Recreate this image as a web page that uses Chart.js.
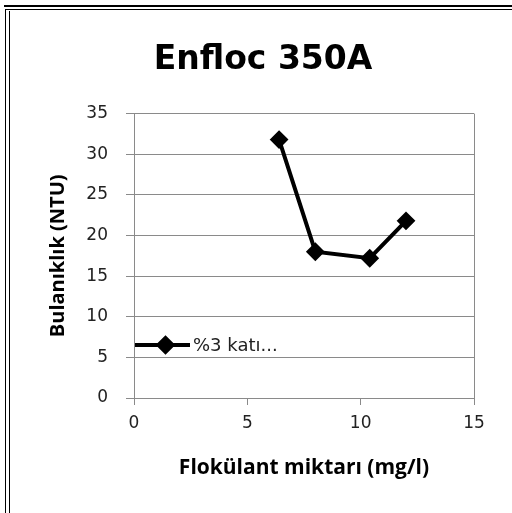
<!DOCTYPE html>
<html>
<head>
<meta charset="utf-8">
<script src="https://cdn.jsdelivr.net/npm/chart.js@4.4.1/dist/chart.umd.min.js"></script>
<style>
  html, body { margin: 0; padding: 0; background: #fff; }
  #wrap { position: relative; width: 512px; height: 513px; }
</style>
</head>
<body>
<div id="wrap"><canvas id="chart" width="512" height="513"></canvas></div>
<script>
"use strict";

// Veriler
const xValues = [6.4, 8, 10.4, 12];
const yValues = [31.8, 18, 17.2, 21.8];
const seriesName = "%3 katı...";
const xTicks = [0, 5, 10, 15];
const yTicks = [0, 5, 10, 15, 20, 25, 30, 35];

const gray = "#8a8a8a";

// Çerçeve çizgileri
const framePlugin = {
    id: "frame",
    afterDraw(chart) {
        const ctx = chart.ctx;
        ctx.save();
        ctx.fillStyle = "#000";
        ctx.fillRect(4, 5, 508, 2);
        ctx.fillRect(6, 9, 506, 1);
        ctx.fillRect(5, 9, 1, 504);
        ctx.fillRect(9, 11, 1, 502);
        ctx.restore();
    }
};

// Grafik içindeki gösterge (çizgi + karo + metin)
const legendPlugin = {
    id: "inlineLegend",
    afterDatasetsDraw(chart) {
        const ctx = chart.ctx;
        const area = chart.chartArea;
        const ds = chart.data.datasets[0];
        const y = area.bottom - 53;
        const x0 = area.left + 1;
        const x1 = area.left + 56;
        ctx.save();
        ctx.strokeStyle = ds.borderColor;
        ctx.lineWidth = 4;
        ctx.beginPath();
        ctx.moveTo(x0, y);
        ctx.lineTo(x1, y);
        ctx.stroke();
        Chart.helpers.drawPoint(ctx, {pointStyle: "rectRot", radius: 7, borderWidth: 1}, (x0 + x1) / 2 + 3, y);
        ctx.fillStyle = ds.borderColor;
        ctx.fill();
        ctx.font = "18px 'DejaVu Sans'";
        ctx.fillStyle = "#222";
        ctx.textBaseline = "middle";
        ctx.fillText(ds.label, x1 + 3, y + 1);
        ctx.restore();
    }
};

const ctx = document.getElementById("chart");

new Chart(ctx, {
    type: "scatter",
    data: {
        datasets: [{
            label: seriesName,
            data: xValues.map((x, i) => ({x: x, y: yValues[i]})),
            showLine: true,
            borderColor: "#000",
            backgroundColor: "#000",
            borderWidth: 4,
            pointStyle: "rectRot",
            pointRadius: 8,
            pointBorderWidth: 2,
            pointBackgroundColor: "#000",
            pointBorderColor: "#000"
        }]
    },
    options: {
        responsive: false,
        animation: false,
        layout: {
            padding: {left: 52, right: 38, top: 0, bottom: 0}
        },
        plugins: {
            legend: {display: false},
            tooltip: {enabled: false},
            title: {
                display: true,
                text: "Enfloc 350A",
                color: "#000",
                font: {family: "'DejaVu Sans'", size: 33, weight: "bold"},
                padding: {top: 41, bottom: 33}
            }
        },
        scales: {
            x: {
                type: "linear",
                min: 0,
                max: 15,
                afterBuildTicks: axis => { axis.ticks = xTicks.map(v => ({value: v})); },
                afterFit: axis => { axis.height = 115; },
                grid: {
                    color: c => (c.tick && c.tick.value === 15 ? gray : "transparent"),
                    tickColor: gray,
                    tickLength: 7
                },
                border: {display: true, color: gray},
                ticks: {
                    color: "#222",
                    padding: 8,
                    font: {family: "'DejaVu Sans'", size: 17}
                },
                title: {
                    display: true,
                    text: "Flokülant miktarı (mg/l)",
                    color: "#000",
                    font: {family: "'Open Sans'", size: 21, weight: "bold"},
                    padding: {top: 0, bottom: 32}
                }
            },
            y: {
                type: "linear",
                min: 0,
                max: 35,
                afterBuildTicks: axis => { axis.ticks = yTicks.map(v => ({value: v})); },
                afterFit: axis => { axis.width = 82; },
                grid: {
                    color: gray,
                    tickColor: gray,
                    tickLength: 8
                },
                border: {display: true, color: gray},
                ticks: {
                    color: "#222",
                    padding: 18,
                    font: {family: "'DejaVu Sans'", size: 17}
                },
                title: {
                    display: true,
                    text: "Bulanıklık (NTU)",
                    color: "#000",
                    font: {family: "'Open Sans'", size: 20, weight: "bold"},
                    padding: {top: -6, bottom: 0}
                }
            }
        }
    },
    plugins: [framePlugin, legendPlugin]
});
</script>
</body>
</html>
